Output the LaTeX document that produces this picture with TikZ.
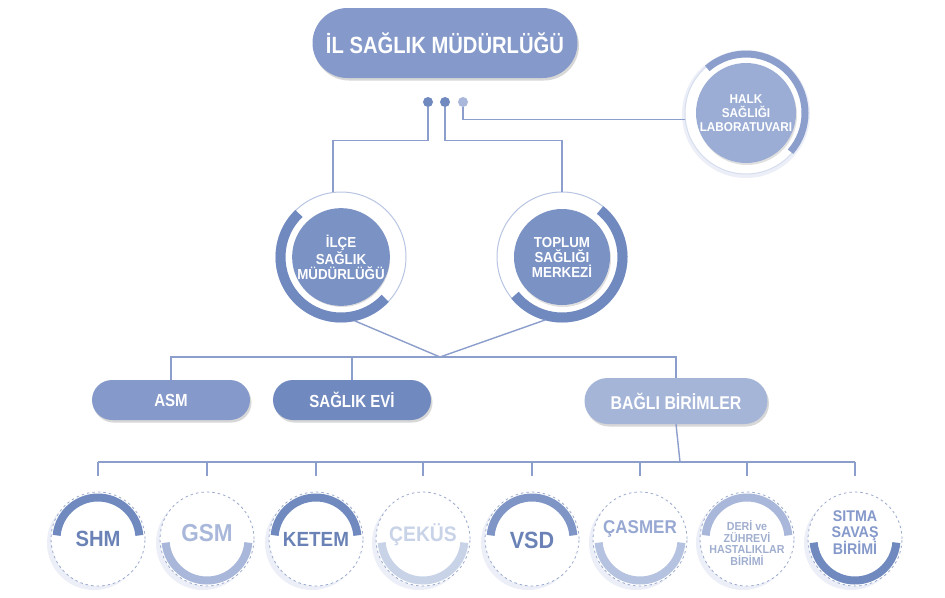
\documentclass[tikz,border=0pt]{standalone}
\usepackage{fontspec}
\setmainfont{Liberation Sans}
\newfontfamily\nf{Liberation Sans}[FakeStretch=0.86]
\newfontfamily\nfb{Liberation Sans}[FakeStretch=0.92]
\usetikzlibrary{shapes.misc,shadows,calc}
\definecolor{lineC}{HTML}{8C9ECB}
\definecolor{darkC}{HTML}{7089BF}
\definecolor{midC}{HTML}{8599CA}
\definecolor{lightC}{HTML}{A9B8DA}
\definecolor{paleC}{HTML}{C9D3E8}
\definecolor{ringC}{HTML}{B9C6E3}
\definecolor{dashC}{HTML}{9AA9CC}
\definecolor{shadC}{HTML}{ECEFF7}
\definecolor{halkC}{HTML}{9BADD5}
\newcommand\mybub[9]{%
  \fill[shadC] (#2-4,-543) circle[radius=47];
  \fill[white] (#2,-539) circle[radius=47];
  \draw[dashC, line width=0.8pt, dash pattern=on 2.5pt off 3pt] (#2,-539) circle[radius=47];
  \draw[line width=8pt, #3] ([shift={(#4:41.5)}]#2,-539) arc[start angle=#4, end angle=#5, radius=41.5];
  \node[circle, minimum size=94pt, inner sep=0pt] (#1) at (#2,-539) {};
  \node[text=#6, font=\nfb\bfseries\fontsize{#7}{#7}\selectfont, align=center, inner sep=0pt] (#1t) at (#2,-539+#8) {#9};
}
\begin{document}
\begin{tikzpicture}[x=1pt,y=1pt,
  conn/.style={draw=lineC, line width=1.4pt},
  pill/.style={rounded rectangle, inner sep=0pt, text=white,
    font=\nf\bfseries\fontsize{17.5}{17.5}\selectfont,
    drop shadow={shadow xshift=1.5pt, shadow yshift=-2.5pt, opacity=.22, fill=black!70}},
  disc/.style={circle, inner sep=0pt, text=white, align=center},
  ringnode/.style={circle, inner sep=0pt, draw=none},
  dot/.style={circle, inner sep=0pt, minimum size=10pt}]
\useasboundingbox (0,0) rectangle (945,-597);
\fill[white] (0,0) rectangle (945,-597);

% top pill
\node[pill, fill=midC, minimum width=265pt, minimum height=70pt,
  font=\nf\bfseries\fontsize{23.5}{23.5}\selectfont] (il) at (445,-43) {İL SAĞLIK MÜDÜRLÜĞÜ};

% dots
\node[dot, fill=darkC] (d1) at (428,-102) {};
\node[dot, fill=darkC] (d2) at (445,-102) {};
\node[dot, fill=lightC] (d3) at (463,-102) {};

% HALK SAGLIGI
\fill[shadC] (746,-114) circle[radius=64];
\fill[white] (746,-113) circle[radius=61];
\draw[ringC!60, line width=1pt] (746,-113) circle[radius=61];
\draw[line width=7pt, lineC] ([shift={(131:59)}]746,-113) arc[start angle=131, end angle=-41, radius=59];
\fill[black!12] (747,-115) circle[radius=50];
\node[disc, minimum size=100pt, fill=halkC,
  font=\nfb\bfseries\fontsize{12.8}{14}\selectfont] (halk) at (746,-113) {HALK\\SAĞLIĞI\\LABORATUVARI};
\node[ringnode, minimum size=122pt] (halkR) at (746,-113) {};

% ILCE
\draw[ringC, line width=1pt] (341,-257) circle[radius=65];
\draw[line width=10pt, darkC] ([shift={(134:60.5)}]341,-257) arc[start angle=134, end angle=317, radius=60.5];
\fill[black!12] (342,-259) circle[radius=48];
\node[disc, fill=darkC!92!white, minimum size=96pt,
  font=\nfb\bfseries\fontsize{14.5}{15}\selectfont] (ilce) at (341,-257) {İLÇE\\SAĞLIK\\MÜDÜRLÜĞÜ};
\node[ringnode, minimum size=130pt] (ilceR) at (341,-257) {};

% TOPLUM
\draw[ringC, line width=1pt] (562,-257) circle[radius=65];
\draw[line width=10pt, darkC] ([shift={(51:60.5)}]562,-257) arc[start angle=51, end angle=-141, radius=60.5];
\fill[black!12] (563,-259) circle[radius=48];
\node[disc, fill=darkC!92!white, minimum size=96pt,
  font=\nfb\bfseries\fontsize{14.5}{15}\selectfont] (top) at (562,-257) {TOPLUM\\SAĞLIĞI\\MERKEZİ};
\node[ringnode, minimum size=130pt] (topR) at (562,-257) {};

% connectors from dots
\draw[conn] (d1.south) -- ++(0,-33) -| (ilceR.97);
\draw[conn] (d2.south) -- ++(0,-33) -| (topR.north);
\draw[conn] (d3.south) |- (halkR.186);

% middle pills
\node[pill, fill=midC, minimum width=158pt, minimum height=40pt] (asm) at (171,-400) {ASM};
\node[pill, fill=darkC, minimum width=158pt, minimum height=40pt] (ev) at (352,-400) {SAĞLIK EVİ};
\node[pill, fill=lightC!90!midC, minimum width=183pt, minimum height=46pt,
  font=\nf\bfseries\fontsize{18.5}{18.5}\selectfont] (bagli) at (676,-401) {BAĞLI BİRİMLER};

\coordinate (apex) at (440,-357);
\draw[conn] (ilceR.-78) -- (apex) -- (topR.-105);
\draw[conn] (asm.north) |- (apex) -| (bagli.north);
\draw[conn] (ev.north) -- (ev.north |- apex);

% bottom bubbles
\mybub{b1}{98}{darkC}{175}{5}{darkC!95!black}{22}{0}{SHM}
\mybub{b2}{207}{lightC}{185}{355}{lightC}{24.5}{6}{GSM}
\mybub{b3}{316}{darkC}{175}{5}{darkC!95!black}{20.5}{0}{KETEM}
\mybub{b4}{423}{paleC}{185}{355}{paleC}{21}{4}{ÇEKÜS}
\mybub{b5}{532}{darkC!90!white}{175}{5}{darkC!95!black}{23.5}{-1}{VSD}
\mybub{b6}{640}{lightC!85!white}{185}{355}{midC!85!white}{18.5}{10}{ÇASMER}
\mybub{b7}{747}{lightC}{175}{5}{lightC!95!black}{11.6}{-4}{DERİ ve\\ZÜHREVİ\\HASTALIKLAR\\BİRİMİ}
\mybub{b8}{855}{darkC}{185}{355}{midC}{15.5}{6}{SITMA\\SAVAŞ\\BİRİMİ}

\coordinate (bus) at (680,-462);
\draw[conn] (bagli.south) -- (bus);
\draw[conn] (b1.north |- bus) -- (b8.north |- bus);
\foreach \i in {1,...,8}{
  \draw[conn, shorten >=16pt] (b\i.north |- bus) -- (b\i.north);
}
\end{tikzpicture}
\end{document}
